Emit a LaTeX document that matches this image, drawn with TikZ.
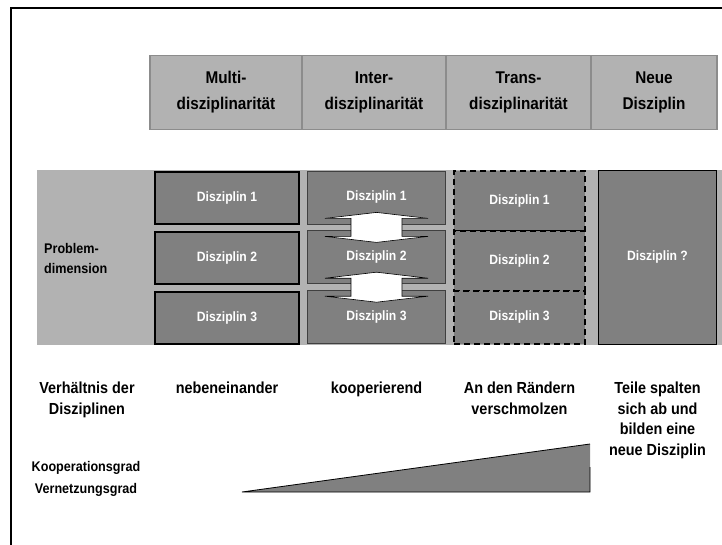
\documentclass[tikz,border=0pt]{standalone}
\usepackage{fontspec}
\setmainfont{Liberation Sans}[FakeStretch=0.9]
\usetikzlibrary{positioning,calc}

\definecolor{hdrgray}{HTML}{B2B2B2}
\definecolor{hdrline}{HTML}{8C8C8C}
\definecolor{bggray}{HTML}{B2B2B2}
\definecolor{boxgray}{HTML}{808080}

\begin{document}
\begin{tikzpicture}[x=1pt, y=-1pt,
  headbox/.style={draw=hdrline, line width=1.2pt, fill=hdrgray, align=center, minimum height=74pt, inner sep=0pt, font=\fontsize{17}{26}\selectfont\bfseries},
  disc/.style={fill=boxgray, text=white, align=center, inner sep=0pt, font=\fontsize{13.5}{16}\selectfont\bfseries},
  multibox/.style={disc, draw=black, line width=2pt, minimum width=144pt, minimum height=52pt},
  interbox/.style={disc, draw=black!75, line width=0.8pt, minimum width=138pt, minimum height=53pt},
  transbox/.style={disc, draw=black, line width=2pt, dash pattern=on 6pt off 4pt, minimum width=131pt},
  newbox/.style={disc, draw=black, line width=1.2pt, minimum width=118pt, minimum height=174pt},
  lbl/.style={align=center, anchor=north, inner sep=0pt, font=\fontsize{16}{20.5}\selectfont\bfseries},
  swap/.style={draw=black, line width=0.6pt, fill=white},
  wedge/.style={fill=boxgray}
]
\useasboundingbox (0,0) rectangle (722,545);

% frame
\draw[line width=1.5pt] (11,545) -- (11,8) -- (722,8);

% header row
\node[headbox, minimum width=152pt] (multi) at (226,92.5) {Multi-\\disziplinarität};
\node[headbox, minimum width=144pt, right=-1.2pt of multi] (inter) {Inter-\\disziplinarität};
\node[headbox, minimum width=145pt, right=-1.2pt of inter] (trans) {Trans-\\disziplinarität};
\node[headbox, minimum width=126pt, right=-1.2pt of trans] (neu) {Neue\\Disziplin};

% problem dimension
\node[fill=bggray, minimum width=685pt, minimum height=175pt, inner sep=0pt, anchor=north west] (bg) at (37,170) {};
\node[anchor=north west, align=left, inner sep=0pt, font=\fontsize{14}{20}\selectfont\bfseries] (prob) at (44,243) {Problem-\\dimension};

% multi
\node[multibox] (m1) at (227,198) {Disziplin 1};
\node[multibox, below=6pt of m1] (m2) {Disziplin 2};
\node[multibox, below=6pt of m2] (m3) {Disziplin 3};

% inter
\node[interbox] (i1) at (376.5,197.5) {Disziplin 1};
\node[interbox, below=6pt of i1] (i2) {Disziplin 2};
\node[interbox, below=6pt of i2] (i3) {Disziplin 3};

\foreach \a/\b in {i1/i2, i2/i3}{
  \coordinate (mid) at ($(\a.south)!0.5!(\b.north)$);
  \draw[swap] ($(mid)+(0,-15)$) -- ++(51.5,6) -- ++(-26,0) -- ++(0,18) -- ++(26,0)
    -- ++(-51.5,6) -- ++(-51.5,-6) -- ++(26,0) -- ++(0,-18) -- ++(-26,0) -- cycle;
}

% trans
\node[transbox, minimum height=60pt] (t1) at (519.5,201) {Disziplin 1};
\node[transbox, minimum height=60pt, below=-2pt of t1] (t2) {Disziplin 2};
\node[transbox, minimum height=53pt, below=-2pt of t2] (t3) {Disziplin 3};

% neue disziplin
\node[newbox] (q) at (657.5,257.5) {Disziplin ?};

% relations
\node[lbl] (rel) at (87,382) {Verhältnis der\\Disziplinen};
\node[lbl] (neben) at (rel.north -| m3) {nebeneinander};
\node[lbl] (koop) at (rel.north -| i3) {kooperierend};
\node[lbl] (rand) at (rel.north -| t3) {An den Rändern\\verschmolzen};
\node[lbl] (teile) at (rel.north -| q) {Teile spalten\\sich ab und\\bilden eine\\neue Disziplin};

% degree
\node[align=center, anchor=north, inner sep=0pt, font=\fontsize{14}{22}\selectfont\bfseries] (grad) at (86,461) {Kooperationsgrad\\Vernetzungsgrad};
\coordinate (w0) at (242,492);
\coordinate (w1) at (590,492);
\coordinate (w2) at (590,444);
\fill[wedge] (w0) -- (w1) -- (w2) -- cycle;
\draw[line width=0.8pt] (w2) -- (w0) -- (w1) -- ++(0,-25);

\end{tikzpicture}
\end{document}
